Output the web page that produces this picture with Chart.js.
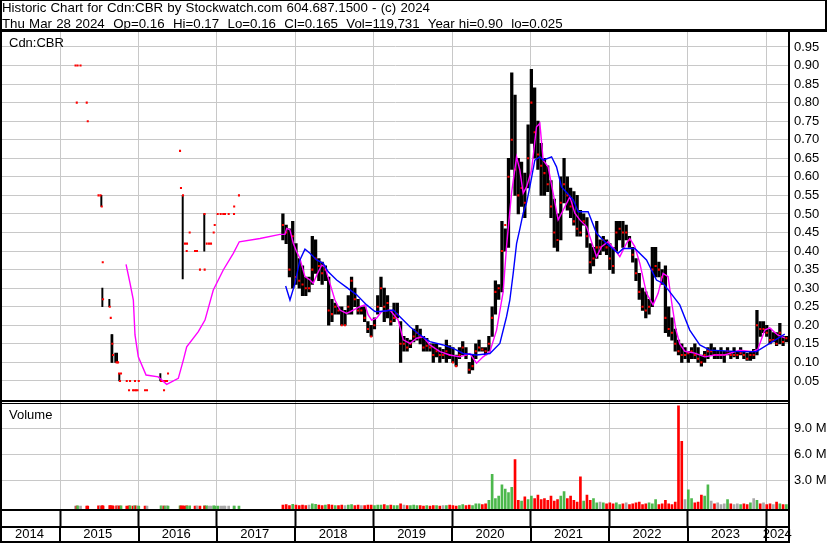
<!DOCTYPE html>
<html><head><meta charset="utf-8">
<script src="https://cdn.jsdelivr.net/npm/chart.js@4.4.1/dist/chart.umd.min.js"></script>
<style>
html,body{margin:0;padding:0;background:#fff;}
#wrap{position:relative;width:830px;height:543px;overflow:hidden;background:#fff;}
canvas{position:absolute;left:0;top:0;}
.txt{position:absolute;font-family:"Liberation Sans",Arial,sans-serif;font-size:13px;color:#000;white-space:pre;line-height:15.6px;z-index:2;}
#hdr{font-size:13.3px;word-spacing:0.5px;}
</style></head>
<body>
<div id="wrap">
<canvas id="c" width="830" height="543"></canvas>
<div class="txt" id="hdr" style="left:2px;top:0px;"></div>
<div class="txt" id="lblP" style="left:9px;top:35px;"></div>
<div class="txt" id="lblV" style="left:9px;top:406.5px;"></div>
</div>
<script>
// ---------- texts ----------
const titleLines = [
  "Historic Chart for Cdn:CBR by Stockwatch.com 604.687.1500 - (c) 2024",
  "Thu Mar 28 2024  Op=0.16  Hi=0.17  Lo=0.16  Cl=0.165  Vol=119,731  Year hi=0.90  lo=0.025"
];
const symbolLabel = "Cdn:CBR";
const volumeLabel = "Volume";

// ---------- axes ----------
const xMin = 2014.26, xMax = 2024.29;
const yearBounds = [2015, 2016, 2017, 2018, 2019, 2020, 2021, 2022, 2023, 2024];
const yearLabels = ['2014','2015','2016','2017','2018','2019','2020','2021','2022','2023','2024'];
const yearLabelPos = [2014.61, 2015.48, 2016.48, 2017.48, 2018.48, 2019.48, 2020.48, 2021.48, 2022.48, 2023.48, 2024.14];
const priceTicks = [0.05,0.10,0.15,0.20,0.25,0.30,0.35,0.40,0.45,0.50,0.55,0.60,0.65,0.70,0.75,0.80,0.85,0.90,0.95];
const priceMax = 0.993;
const volTicks = [3, 6, 9];          // millions
const volMin = -0.3, volMax = 12.33; // millions

// ---------- early sparse trading (2015-2017) ----------
const earlyBarDates = [2015.526, 2015.539, 2015.628, 2015.656, 2015.666, 2015.704, 2015.726, 2015.755, 2016.278, 2016.563, 2016.838];
const earlyBarHi    = [0.55, 0.30, 0.27, 0.175, 0.175, 0.125, 0.125, 0.07, 0.07, 0.55, 0.50];
const earlyBarLo    = [0.52, 0.25, 0.25, 0.10, 0.10, 0.10, 0.10, 0.05, 0.05, 0.325, 0.40];
const earlyDates = [2015.197,2015.213,2015.223,2015.261,2015.340,2015.353,2015.490,2015.516,2015.531,2015.544,
  2015.548,2015.633,2015.646,2015.666,2015.675,2015.720,2015.739,2015.752,2015.764,2015.777,
  2015.850,2015.879,2015.892,2015.930,2015.949,2015.955,2015.968,2015.987,2016.003,2016.083,
  2016.108,2016.287,2016.312,2016.325,2016.338,2016.363,2016.376,2016.529,2016.541,2016.567,
  2016.592,2016.614,2016.618,2016.652,2016.720,2016.745,2016.783,2016.841,2016.843,2016.869,
  2016.898,2016.924,2016.958,2016.971,2017.009,2017.047,2017.080,2017.102,2017.149,2017.217,
  2017.219,2017.280];
const earlyClose = [0.90,0.80,0.90,0.90,0.80,0.75,0.55,0.55,0.52,0.37,
  0.27,0.25,0.22,0.15,0.12,0.10,0.10,0.07,0.05,0.07,
  0.05,0.025,0.05,0.025,0.025,0.05,0.025,0.025,0.05,0.025,
  0.025,0.05,0.05,0.025,0.05,0.05,0.07,0.67,0.57,0.55,
  0.42,0.40,0.42,0.45,0.40,0.40,0.35,0.50,0.35,0.42,
  0.42,0.42,0.45,0.47,0.50,0.50,0.50,0.50,0.50,0.50,
  0.52,0.55];
const earlyVol = [0.05,0.03,0.06,0.04,0.05,0.03,0.08,0.05,0.06,0.07,
  0.05,0.09,0.06,0.08,0.05,0.07,0.06,0.05,0.04,0.06,
  0.05,0.08,0.06,0.05,0.07,0.06,0.05,0.04,0.05,0.03,
  0.04,0.06,0.05,0.04,0.05,0.06,0.05,0.08,0.06,0.07,
  0.05,0.06,0.05,0.06,0.05,0.07,0.05,0.06,0.05,0.06,
  0.05,0.04,0.06,0.05,0.05,0.04,0.05,0.04,0.05,0.04,
  0.05,0.04];

// ---------- active trading from late 2017 (half-month bars) ----------
const barStart = 2017.84, barStep = 1/24;
const barHi = [0.50,0.47,0.46,0.48,0.42,0.38,0.36,0.33,0.33,0.44,
  0.43,0.38,0.37,0.36,0.33,0.27,0.26,0.25,0.25,0.24,
  0.28,0.33,0.30,0.27,0.25,0.25,0.21,0.20,0.22,0.28,
  0.33,0.30,0.28,0.24,0.26,0.26,0.21,0.17,0.165,0.16,
  0.19,0.20,0.19,0.17,0.165,0.15,0.15,0.15,0.14,0.135,
  0.16,0.145,0.14,0.12,0.14,0.156,0.14,0.10,0.12,0.15,
  0.16,0.14,0.14,0.17,0.25,0.32,0.31,0.48,0.46,0.65,
  0.88,0.82,0.65,0.64,0.61,0.74,0.89,0.84,0.75,0.69,
  0.65,0.63,0.59,0.54,0.50,0.60,0.65,0.60,0.57,0.56,
  0.55,0.51,0.50,0.49,0.42,0.41,0.48,0.43,0.44,0.43,
  0.42,0.41,0.48,0.48,0.48,0.47,0.44,0.41,0.38,0.34,
  0.30,0.29,0.27,0.41,0.41,0.37,0.35,0.36,0.25,0.22,
  0.19,0.16,0.15,0.14,0.13,0.14,0.15,0.14,0.12,0.13,
  0.14,0.15,0.14,0.13,0.14,0.13,0.14,0.13,0.14,0.13,
  0.14,0.13,0.125,0.13,0.135,0.24,0.21,0.21,0.20,0.19,
  0.18,0.18,0.205,0.17,0.17];
const barLo = [0.43,0.42,0.33,0.30,0.31,0.30,0.28,0.28,0.29,0.31,
  0.34,0.32,0.31,0.32,0.20,0.21,0.23,0.23,0.20,0.20,
  0.23,0.23,0.25,0.23,0.23,0.21,0.18,0.17,0.19,0.23,
  0.25,0.21,0.22,0.20,0.21,0.22,0.10,0.13,0.13,0.14,
  0.155,0.16,0.15,0.13,0.13,0.13,0.10,0.115,0.10,0.11,
  0.10,0.11,0.10,0.09,0.11,0.12,0.11,0.07,0.08,0.11,
  0.13,0.13,0.12,0.13,0.17,0.23,0.27,0.29,0.40,0.41,
  0.62,0.55,0.50,0.52,0.49,0.57,0.69,0.65,0.62,0.55,
  0.55,0.56,0.49,0.41,0.40,0.43,0.53,0.51,0.49,0.47,
  0.44,0.44,0.47,0.41,0.34,0.36,0.38,0.39,0.40,0.39,
  0.35,0.34,0.40,0.43,0.41,0.43,0.41,0.37,0.32,0.27,
  0.24,0.22,0.23,0.25,0.33,0.33,0.31,0.18,0.17,0.16,
  0.13,0.12,0.10,0.11,0.10,0.11,0.11,0.10,0.09,0.10,
  0.11,0.12,0.11,0.11,0.11,0.10,0.12,0.11,0.115,0.11,
  0.12,0.11,0.105,0.105,0.11,0.12,0.17,0.18,0.17,0.15,
  0.155,0.145,0.15,0.145,0.155];
const barClose = [0.47,0.45,0.35,0.44,0.33,0.32,0.31,0.30,0.30,0.35,
  0.38,0.36,0.34,0.35,0.24,0.23,0.25,0.24,0.20,0.20,
  0.25,0.32,0.27,0.24,0.24,0.22,0.19,0.17,0.20,0.25,
  0.30,0.25,0.26,0.21,0.22,0.23,0.15,0.15,0.14,0.15,
  0.17,0.18,0.17,0.14,0.145,0.14,0.12,0.13,0.12,0.12,
  0.13,0.12,0.10,0.09,0.12,0.14,0.12,0.08,0.09,0.13,
  0.14,0.135,0.13,0.15,0.22,0.29,0.30,0.40,0.47,0.60,
  0.70,0.62,0.55,0.57,0.53,0.65,0.80,0.72,0.66,0.63,
  0.61,0.58,0.52,0.45,0.43,0.53,0.58,0.55,0.52,0.48,
  0.46,0.45,0.48,0.44,0.37,0.38,0.41,0.41,0.43,0.41,
  0.38,0.36,0.45,0.46,0.45,0.45,0.43,0.39,0.34,0.29,
  0.25,0.24,0.25,0.35,0.36,0.35,0.33,0.22,0.19,0.18,
  0.15,0.13,0.12,0.12,0.125,0.13,0.12,0.11,0.10,0.12,
  0.13,0.13,0.12,0.12,0.12,0.12,0.13,0.12,0.12,0.12,
  0.125,0.12,0.11,0.12,0.12,0.20,0.19,0.19,0.18,0.16,
  0.16,0.15,0.18,0.155,0.165];
const barVol = [0.15,0.2,0.1,0.25,0.15,0.1,0.15,0.1,0.15,0.3,
  0.25,0.15,0.1,0.15,0.2,0.15,0.1,0.1,0.15,0.1,
  0.15,0.2,0.1,0.15,0.1,0.1,0.15,0.15,0.1,0.15,
  0.15,0.2,0.1,0.15,0.1,0.1,0.3,0.15,0.1,0.1,
  0.15,0.1,0.1,0.05,0.1,0.05,0.1,0.1,0.05,0.1,
  0.1,0.15,0.1,0.05,0.1,0.2,0.1,0.15,0.1,0.3,
  0.3,0.2,0.3,0.7,3.7,0.9,1.2,2.5,2.0,1.6,
  2.2,5.4,0.7,0.6,1.1,0.8,1.2,0.9,1.3,0.8,
  0.9,0.7,1.2,0.6,0.8,1.2,1.7,0.9,1.2,0.7,
  0.5,3.4,0.6,1.3,0.7,0.9,0.4,0.5,0.4,0.3,
  0.4,0.3,0.4,0.2,0.3,0.4,0.2,0.3,0.4,0.5,
  0.2,0.3,0.4,0.3,0.8,0.2,0.3,0.7,0.3,0.2,
  0.5,11.6,7.5,0.8,1.9,0.9,0.4,0.5,1.3,1.2,
  2.5,0.6,0.3,0.4,0.2,0.3,0.8,0.3,0.2,0.3,
  0.2,0.3,0.2,0.4,0.9,0.7,0.3,0.4,0.2,0.3,
  0.2,0.5,0.3,0.2,0.2];

// ---------- moving averages ----------
const maShortDates = [2015.841,2015.892,2015.934,2015.955,2015.997,2016.096,2016.252,2016.359,2016.507,2016.571,
  2016.614,2016.762,2016.847,2016.953,2017.080,2017.208,2017.284,2017.548,2017.803,2017.866,
  2017.888,2017.930,2017.972,2018.015,2018.057,2018.121,2018.185,2018.227,2018.270,2018.334,
  2018.376,2018.439,2018.503,2018.567,2018.652,2018.736,2018.822,2018.885,2018.927,2018.971,
  2019.034,2019.098,2019.204,2019.310,2019.373,2019.459,2019.544,2019.628,2019.713,2019.841,
  2019.968,2020.096,2020.223,2020.308,2020.392,2020.478,2020.563,2020.647,2020.690,2020.754,
  2020.818,2020.860,2020.902,2020.945,2021.009,2021.072,2021.115,2021.157,2021.220,2021.284,
  2021.348,2021.411,2021.497,2021.561,2021.624,2021.710,2021.794,2021.837,2021.901,2021.985,
  2022.070,2022.134,2022.219,2022.261,2022.325,2022.389,2022.474,2022.558,2022.622,2022.685,
  2022.749,2022.796,2022.847,2022.898,2022.962,2023.089,2023.217,2023.344,2023.471,2023.662,
  2023.828,2023.892,2023.981,2024.045,2024.146,2024.236];
const maShortVals = [0.364,0.313,0.268,0.174,0.115,0.066,0.061,0.041,0.057,0.106,
  0.142,0.183,0.214,0.295,0.349,0.394,0.425,0.434,0.445,0.445,
  0.461,0.457,0.421,0.398,0.380,0.331,0.322,0.313,0.335,0.362,
  0.358,0.313,0.268,0.241,0.232,0.241,0.250,0.255,0.228,0.214,
  0.219,0.237,0.241,0.214,0.161,0.151,0.165,0.169,0.147,0.129,
  0.120,0.115,0.124,0.098,0.115,0.129,0.187,0.290,0.412,0.556,
  0.654,0.618,0.556,0.573,0.618,0.735,0.744,0.645,0.627,0.556,
  0.484,0.510,0.546,0.502,0.484,0.466,0.412,0.385,0.412,0.425,
  0.403,0.385,0.421,0.434,0.412,0.367,0.286,0.255,0.286,0.340,
  0.331,0.260,0.190,0.150,0.130,0.125,0.115,0.120,0.120,0.133,
  0.129,0.135,0.187,0.193,0.174,0.166];
const maLongDates = [2017.875,2017.930,2017.994,2018.057,2018.121,2018.185,2018.270,2018.354,2018.418,2018.525,
  2018.652,2018.780,2018.907,2019.013,2019.076,2019.246,2019.331,2019.459,2019.586,2019.713,
  2019.883,2020.010,2020.138,2020.308,2020.478,2020.605,2020.690,2020.732,2020.775,2020.818,
  2020.860,2020.902,2020.945,2020.987,2021.051,2021.115,2021.157,2021.264,2021.327,2021.391,
  2021.455,2021.539,2021.603,2021.730,2021.837,2021.964,2022.112,2022.176,2022.325,2022.474,
  2022.601,2022.685,2022.771,2022.898,2023.025,2023.153,2023.280,2023.662,2023.875,2024.236];
const maLongVals = [0.306,0.268,0.313,0.376,0.405,0.394,0.376,0.367,0.344,0.322,
  0.302,0.282,0.255,0.237,0.237,0.241,0.223,0.196,0.174,0.156,
  0.147,0.138,0.124,0.120,0.124,0.151,0.223,0.268,0.340,0.420,
  0.460,0.502,0.530,0.573,0.645,0.654,0.645,0.654,0.627,0.573,
  0.558,0.538,0.506,0.506,0.448,0.421,0.394,0.407,0.407,0.376,
  0.322,0.313,0.290,0.255,0.187,0.147,0.133,0.129,0.129,0.176];

// ---------- build datasets ----------
const FONT = "'Liberation Sans', Arial, sans-serif";
const barDates = barHi.map((_, i) => barStart + i * barStep);
const ranges = barDates.map((t, i) => ({x: t, y: [barLo[i], barHi[i]]}));
const earlyRanges = earlyBarDates.map((t, i) => ({x: t, y: [earlyBarLo[i], earlyBarHi[i]]}));
const closes = earlyDates.map((t, i) => ({x: t, y: earlyClose[i]}))
  .concat(barDates.map((t, i) => ({x: t, y: barClose[i]})));
const allVolDates = earlyDates.concat(barDates);
const allVol = earlyVol.concat(barVol);
const allClose = earlyClose.concat(barClose);
const vols = allVolDates.map((t, i) => ({x: t, y: allVol[i]}));
const volColors = allClose.map((c, i) => {
  if (i === 0 || c === allClose[i - 1]) return '#a8a8a8';
  return c > allClose[i - 1] ? '#4cb84c' : '#ff0000';
});
const maShort = maShortDates.map((t, i) => ({x: t, y: maShortVals[i]}));
const maLong = maLongDates.map((t, i) => ({x: t, y: maLongVals[i]}));

document.getElementById('hdr').textContent = titleLines.join('\n');
document.getElementById('lblP').textContent = symbolLabel;
document.getElementById('lblV').textContent = volumeLabel;

// ---------- frame lines ----------
const framePlugin = {
  id: 'frame',
  afterDraw(chart) {
    const ctx = chart.ctx, a = chart.chartArea, W = chart.width, H = chart.height;
    const yP = chart.scales.y, xs = chart.scales.x, x2 = chart.scales.x2;
    const R = a.right;
    ctx.save();
    ctx.fillStyle = '#000';
    ctx.fillRect(0, 0, 2, H);                 // left border
    ctx.fillRect(0, 0, W - 3, 1);             // title top
    ctx.fillRect(W - 5, 0, 2, a.top);         // title right
    ctx.fillRect(0, a.top - 2, W - 3, 3);     // title bottom
    ctx.fillRect(R - 1, a.top, 2, H - a.top); // right of plot
    const pb = Math.round(yP.bottom);
    ctx.fillRect(0, pb, R, 2);                // double divider
    ctx.fillRect(0, pb + 3, R, 1);
    ctx.fillRect(0, Math.round(a.bottom), R, 2);
    ctx.fillRect(0, Math.round(x2.top) - 1, R, 2);
    ctx.fillRect(0, H - 2, R, 2);
    yearBounds.forEach(v => {
      const px = Math.round(xs.getPixelForValue(v));
      ctx.fillRect(px - 1, x2.top, 2, x2.bottom - x2.top);
    });
    ctx.restore();
  }
};

Chart.defaults.color = '#000';
Chart.defaults.font.family = FONT;

new Chart(document.getElementById('c'), {
  type: 'bar',
  data: {
    datasets: [
      {type: 'line', label: 'MA long', data: maLong, borderColor: '#0000ff', borderWidth: 1.4,
       pointRadius: 0, fill: false, tension: 0, yAxisID: 'y', xAxisID: 'x', order: 0},
      {type: 'line', label: 'MA short', data: maShort, borderColor: '#ff00ff', borderWidth: 1.4,
       pointRadius: 0, fill: false, tension: 0, yAxisID: 'y', xAxisID: 'x', order: 1},
      {type: 'scatter', label: 'Close', data: closes, pointStyle: 'rect', pointRadius: 1.45,
       pointBackgroundColor: '#ff0000', pointBorderWidth: 0, pointHoverRadius: 0,
       yAxisID: 'y', xAxisID: 'x', order: 2},
      {type: 'bar', label: 'Range', data: ranges, backgroundColor: '#000', barThickness: 2.6,
       grouped: false, yAxisID: 'y', xAxisID: 'x', order: 3},
      {type: 'bar', label: 'Early range', data: earlyRanges, backgroundColor: '#000', barThickness: 1.3,
       grouped: false, yAxisID: 'y', xAxisID: 'x', order: 3},
      {type: 'bar', label: 'Volume', data: vols, backgroundColor: volColors, barThickness: 2,
       grouped: false, base: volMin, yAxisID: 'yv', xAxisID: 'x', order: 4}
    ]
  },
  options: {
    responsive: false,
    animation: false,
    devicePixelRatio: 1,
    events: [],
    layout: {padding: {left: 2, top: 31, right: 0, bottom: 1}},
    plugins: {legend: {display: false}, tooltip: {enabled: false}, title: {display: false}},
    scales: {
      x: {
        type: 'linear', position: 'bottom', min: xMin, max: xMax, offset: false,
        grid: {offset: false, color: '#c8c8c8', lineWidth: 1, drawTicks: true, tickLength: 18,
               tickColor: '#000', tickWidth: 2},
        border: {display: false},
        ticks: {display: false, autoSkip: false},
        afterBuildTicks: s => { s.ticks = yearBounds.map(v => ({value: v})); },
        afterFit: s => { s.height = 18; }
      },
      x2: {
        type: 'linear', position: 'bottom', min: xMin, max: xMax, offset: false,
        grid: {display: false, drawTicks: false, offset: false},
        border: {display: false},
        ticks: {autoSkip: false, maxRotation: 0, padding: 0, color: '#000',
                font: {family: FONT, size: 13},
                callback: (v, i) => yearLabels[i]},
        afterBuildTicks: s => { s.ticks = yearLabelPos.map(v => ({value: v})); },
        afterFit: s => { s.height = 15; }
      },
      y: {
        type: 'linear', position: 'right', stack: 'panels', stackWeight: 368.5,
        min: 0, max: priceMax,
        grid: {color: '#c8c8c8', lineWidth: 1, drawTicks: false},
        border: {display: false},
        ticks: {autoSkip: false, padding: 5, color: '#000', font: {family: FONT, size: 13},
                callback: v => v.toFixed(2)},
        afterBuildTicks: s => { s.ticks = priceTicks.map(v => ({value: v})); },
        afterFit: s => { s.width = 41; }
      },
      yv: {
        type: 'linear', position: 'right', stack: 'panels', stackWeight: 109.5,
        min: volMin, max: volMax,
        grid: {color: '#c8c8c8', lineWidth: 1, drawTicks: false},
        border: {display: false},
        ticks: {autoSkip: false, padding: 5, color: '#000', font: {family: FONT, size: 13},
                callback: v => v.toFixed(1) + ' M'},
        afterBuildTicks: s => { s.ticks = volTicks.map(v => ({value: v})); },
        afterFit: s => { s.width = 41; }
      }
    }
  },
  plugins: [framePlugin]
});
</script>
</body></html>
